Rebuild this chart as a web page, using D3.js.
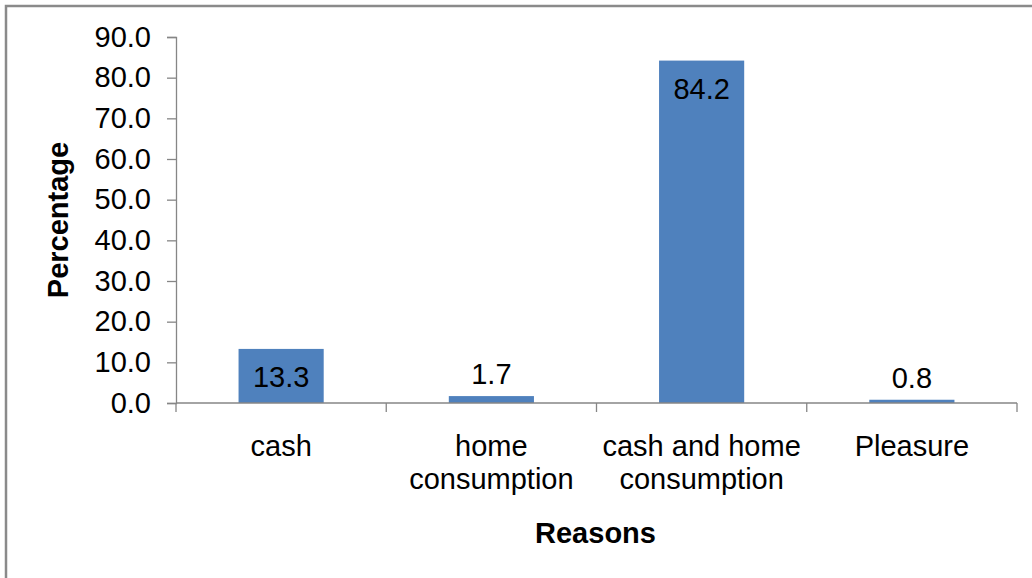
<!DOCTYPE html>
<html lang="en">
<head>
  <meta charset="UTF-8">
  <title>Reasons chart</title>
  <style>
    body { margin: 0; background: #fff; }
    svg { display: block; font-family: "Liberation Sans", Arial, sans-serif; }
  </style>
</head>
<body>
<div class="demo"></div>
<script src="https://cdn.jsdelivr.net/npm/d3@7"></script>
<script>
  let categories = [['cash'], ['home', 'consumption'], ['cash and home', 'consumption'], ['Pleasure']]
  let values = [13.3, 1.7, 84.2, 0.8]
  let yTicks = [0, 10, 20, 30, 40, 50, 60, 70, 80, 90]

  let W = 1032, H = 578
  let fs = '29px'
  let svg = d3.select('.demo').append('svg')
    .attr('width', W)
    .attr('height', H)

  // outer frame (right/bottom edge fall outside the picture)
  svg.append('rect')
    .attr('x', 6).attr('y', 6)
    .attr('width', W + 10).attr('height', H + 10)
    .attr('fill', 'none')
    .attr('stroke', '#8a8a8a')
    .attr('stroke-width', 2.5)

  let plotL = 176, plotR = 1017, plotT = 37, plotB = 403

  let x = d3.scaleBand()
    .domain(d3.range(values.length))
    .range([plotL, plotR])
    .paddingInner(0.595)
    .paddingOuter(0.2975)

  let y = d3.scaleLinear()
    .domain([0, 90])
    .range([plotB, plotT])

  // bars
  svg.selectAll('rect.bar')
    .data(values)
    .enter()
    .append('rect')
    .attr('class', 'bar')
    .attr('x', (d, i) => x(i))
    .attr('width', x.bandwidth())
    .attr('y', d => y(d))
    .attr('height', d => y(0) - y(d))
    .attr('fill', '#4f81bd')

  // y axis
  let yAxis = d3.axisLeft(y)
    .tickValues(yTicks)
    .tickSize(9)
    .tickPadding(16)
    .tickFormat(d3.format('.1f'))

  let gy = svg.append('g')
    .attr('transform', 'translate(' + plotL + ',0)')
    .call(yAxis)
  gy.select('.domain').attr('stroke', '#868686').attr('stroke-width', 1.3)
  gy.selectAll('.tick line').attr('stroke', '#868686').attr('stroke-width', 1.3)
  gy.selectAll('.tick text')
    .attr('font-size', fs)
    .attr('fill', '#000')
    .attr('font-family', '"Liberation Sans", Arial, sans-serif')

  // x axis with ticks on band boundaries
  let bandEdges = d3.range(values.length + 1).map(i => plotL + i * (plotR - plotL) / values.length)
  svg.append('line')
    .attr('x1', plotL).attr('x2', plotR)
    .attr('y1', plotB).attr('y2', plotB)
    .attr('stroke', '#868686').attr('stroke-width', 1.3)
  svg.selectAll('line.xtick')
    .data(bandEdges)
    .enter()
    .append('line')
    .attr('class', 'xtick')
    .attr('x1', d => d).attr('x2', d => d)
    .attr('y1', plotB).attr('y2', plotB + 9)
    .attr('stroke', '#868686').attr('stroke-width', 1.3)

  // category labels
  svg.selectAll('text.cat')
    .data(categories)
    .enter()
    .append('text')
    .attr('class', 'cat')
    .attr('text-anchor', 'middle')
    .attr('font-size', fs)
    .attr('fill', '#000')
    .attr('transform', (d, i) => 'translate(' + (x(i) + x.bandwidth() / 2) + ',456)')
    .selectAll('tspan')
    .data(d => d)
    .enter()
    .append('tspan')
    .attr('x', 0)
    .attr('y', (d, j) => j * 33)
    .text(d => d)

  // value labels
  svg.selectAll('text.val')
    .data(values)
    .enter()
    .append('text')
    .attr('class', 'val')
    .attr('text-anchor', 'middle')
    .attr('font-size', fs)
    .attr('fill', '#000')
    .attr('x', (d, i) => x(i) + x.bandwidth() / 2)
    .attr('y', d => d > 10 ? y(d) + 38 : y(d) - 12)
    .text(d => d.toFixed(1))

  // axis titles
  svg.append('text')
    .attr('text-anchor', 'middle')
    .attr('font-size', fs)
    .attr('font-weight', 'bold')
    .attr('x', (plotL + plotR) / 2 - 1)
    .attr('y', 543)
    .text('Reasons')

  svg.append('text')
    .attr('text-anchor', 'middle')
    .attr('font-size', fs)
    .attr('font-weight', 'bold')
    .attr('transform', 'translate(68,' + ((plotT + plotB) / 2) + ') rotate(-90)')
    .text('Percentage')
</script>
</body>
</html>
